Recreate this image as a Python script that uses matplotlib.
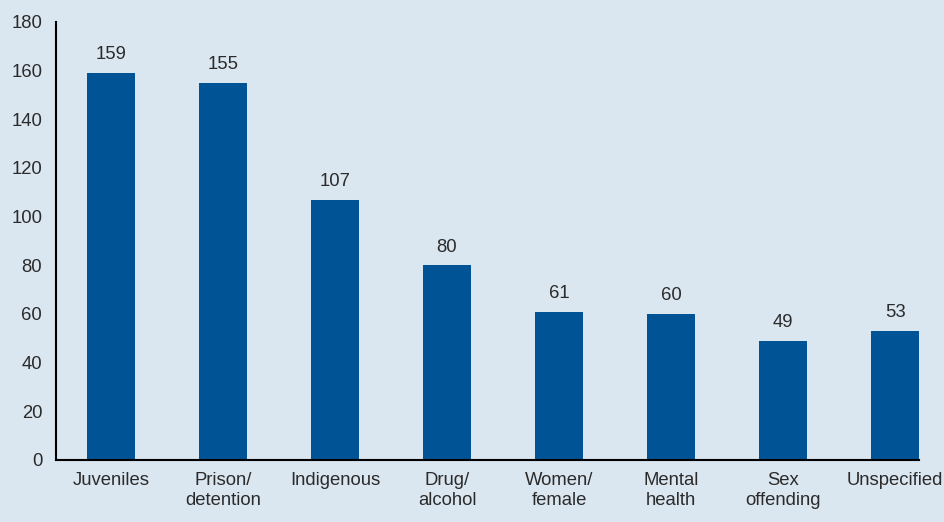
import matplotlib
matplotlib.use("Agg")
import matplotlib.pyplot as plt

categories = ["Juveniles", "Prison/\ndetention", "Indigenous", "Drug/\nalcohol",
              "Women/\nfemale", "Mental\nhealth", "Sex\noffending", "Unspecified"]
counts = [159, 155, 107, 80, 61, 60, 49, 53]
y_ticks = [0, 20, 40, 60, 80, 100, 120, 140, 160, 180]

bg = "#dae6f0"
bar_color = "#005496"
text_color = "#2b2b2b"
fs = 13.3

plt.rcParams["font.family"] = ["Liberation Sans", "DejaVu Sans"]

fig = plt.figure(figsize=(9.45, 5.22), dpi=100, facecolor=bg)
ax = fig.add_axes([0.0593, 0.1188, 0.9132, 0.8391])
ax.set_facecolor(bg)

x = range(len(categories))
ax.bar(x, counts, width=0.425, color=bar_color, zorder=2)

# value labels above each bar
for xi, v in zip(x, counts):
    ax.text(xi, v + 4, str(v), ha="center", va="bottom", fontsize=fs, color=text_color)

ax.set_xlim(-0.49, len(categories) - 1 + 0.2125)
ax.set_ylim(0, 180)
ax.set_yticks(y_ticks)
ax.set_xticks(list(x))
ax.set_xticklabels(categories, fontsize=fs, color=text_color, linespacing=1.22)
ax.tick_params(axis="y", length=0, pad=10, labelsize=fs, labelcolor=text_color)
ax.tick_params(axis="x", length=0, pad=8.5)

for side in ["top", "right"]:
    ax.spines[side].set_visible(False)
for side in ["left", "bottom"]:
    ax.spines[side].set_color("black")
    ax.spines[side].set_linewidth(1.5)

fig.savefig("out.png", dpi=100, facecolor=bg)
